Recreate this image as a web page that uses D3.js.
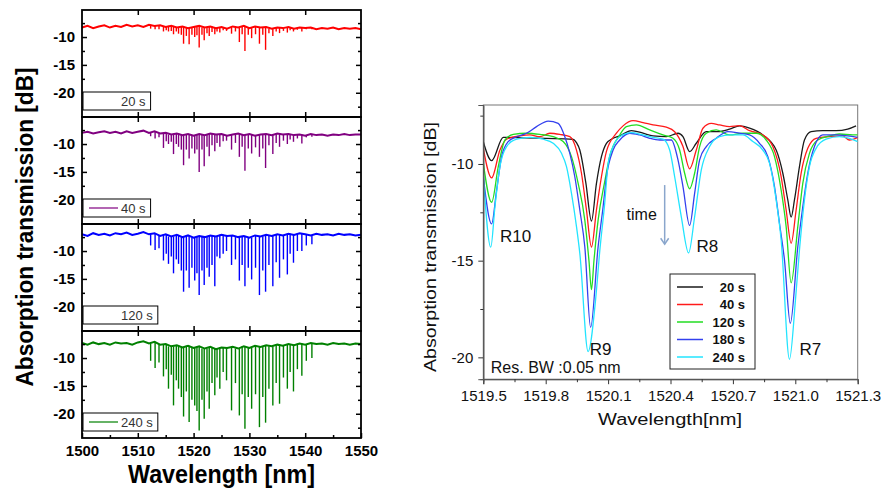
<!DOCTYPE html>
<html>
<head>
<meta charset="utf-8">
<script src="https://cdn.jsdelivr.net/npm/d3@7"></script>
<style>
  body { margin: 0; background: #fff; }
  svg { display: block; font-family: "Liberation Sans", Arial, sans-serif; }
</style>
</head>
<body>
<svg id="chart" width="881" height="500"></svg>
<script>
// ---- left: broadband spectra (one panel per time) ----
var baseWl = [1500,1501,1502,1503,1504,1505,1506,1507,1508,1509,
              1510,1511,1512,1513,1514,1515,1516,1517,1518,1519,
              1520,1521,1522,1523,1524,1525,1526,1527,1528,1529,
              1530,1531,1532,1533,1534,1535,1536,1537,1538,1539,
              1540,1541,1542,1543,1544,1545,1546,1547,1548,1549,
              1550];

var base20 = [-8.3,-8.0,-8.4,-8.1,-7.9,-8.3,-8.0,-8.2,-7.8,-8.1,
              -7.9,-8.2,-7.8,-8.0,-7.9,-8.2,-8.0,-8.3,-8.1,-8.4,
              -8.2,-8.0,-8.3,-8.1,-8.4,-8.2,-8.5,-8.1,-8.3,-8.0,
              -8.4,-8.1,-8.3,-8.2,-8.5,-8.3,-8.4,-8.2,-8.5,-8.3,
              -8.4,-8.3,-8.6,-8.4,-8.5,-8.3,-8.6,-8.4,-8.5,-8.4,
              -8.6];
var base40 = [-8.0,-7.8,-8.1,-7.9,-7.7,-8.0,-7.8,-8.1,-7.7,-8.0,
              -7.8,-7.6,-8.0,-7.7,-8.1,-8.0,-8.3,-8.1,-8.4,-8.2,
              -8.5,-8.2,-8.4,-8.1,-8.3,-8.2,-8.5,-8.3,-8.1,-8.4,
              -8.2,-8.5,-8.3,-8.2,-8.4,-8.1,-8.3,-8.2,-8.4,-8.3,
              -8.5,-8.2,-8.4,-8.3,-8.5,-8.3,-8.4,-8.2,-8.4,-8.3,
              -8.3];
var base120 = [-7.0,-7.3,-6.8,-7.1,-6.9,-7.2,-6.8,-7.0,-6.7,-7.1,
               -6.9,-6.6,-7.0,-6.8,-7.3,-7.0,-7.4,-7.1,-7.5,-7.2,
               -7.6,-7.3,-7.5,-7.2,-7.4,-7.1,-7.3,-7.2,-7.5,-7.3,
               -7.6,-7.2,-7.4,-7.1,-7.3,-7.0,-7.2,-6.9,-7.1,-6.8,
               -7.0,-7.2,-6.9,-7.1,-7.0,-7.2,-6.9,-7.1,-7.0,-7.2,
               -7.1];
var base240 = [-7.3,-7.6,-7.2,-7.5,-7.3,-7.6,-7.2,-7.4,-7.3,-7.6,
               -7.2,-7.0,-7.4,-7.1,-7.6,-7.5,-7.9,-7.7,-8.1,-7.8,
               -8.2,-7.9,-8.3,-8.0,-8.4,-8.1,-8.2,-8.0,-8.3,-7.9,
               -8.2,-7.8,-8.0,-7.7,-7.9,-7.6,-7.8,-7.5,-7.7,-7.4,
               -7.6,-7.3,-7.5,-7.4,-7.6,-7.3,-7.5,-7.4,-7.6,-7.4,
               -7.5];

// absorption line positions (nm) and their bottom level (dB) per panel
var lineWl = [1512.3,1513.1,1513.8,1514.6,1515.1,1515.5,1516.0,1516.4,1516.9,1517.3,
              1517.8,1518.2,1518.7,1519.2,1519.7,1520.2,1520.6,1521.0,1521.5,1521.9,
              1522.4,1522.8,1523.3,1523.8,1524.2,1524.7,1525.3,1525.9,1526.8,1527.5,
              1528.2,1528.7,1529.2,1529.8,1530.4,1531.1,1531.8,1532.4,1532.9,1533.5,
              1534.2,1534.8,1535.4,1536.1,1536.8,1537.3,1537.9,1538.6,1539.4,1540.2,
              1541.2];
var dip20 = [-8.5,-8.6,-8.6,-9.0,-8.8,-9.0,-8.9,-9.5,-9.0,-9.4,
             -9.6,-11.2,-9.8,-11.3,-9.6,-10.0,-9.7,-11.9,-9.6,-10.6,
             -9.3,-9.8,-9.1,-9.5,-9.0,-9.2,-8.8,-8.9,-9.4,-9.0,
             -10.9,-9.5,-12.5,-9.6,-10.2,-9.5,-11.2,-9.6,-12.3,-9.3,
             -9.8,-9.0,-9.3,-8.9,-9.2,-8.8,-9.0,-8.7,-9.0,-8.6,
             -8.6];
var dip40 = [-8.6,-9.0,-8.8,-10.7,-9.5,-10.0,-9.6,-11.8,-10.0,-10.5,
             -11.0,-13.8,-11.0,-12.6,-10.8,-11.7,-11.0,-15.0,-11.0,-14.0,
             -10.5,-12.2,-10.2,-11.3,-9.8,-10.5,-9.5,-9.4,-11.0,-9.8,
             -12.3,-10.5,-14.8,-10.8,-11.7,-10.6,-12.3,-10.8,-14.3,-10.2,
             -11.8,-9.8,-10.5,-9.4,-10.0,-9.2,-9.6,-9.0,-9.9,-8.8,
             -8.7];
var dip120 = [-9.0,-9.8,-9.5,-11.7,-10.5,-12.3,-11.0,-14.0,-11.5,-12.3,
              -13.5,-17.3,-13.5,-16.6,-13.0,-15.3,-14.0,-17.9,-13.5,-16.1,
              -13.0,-14.6,-12.5,-16.3,-11.0,-11.3,-10.5,-10.0,-12.5,-11.5,
              -15.3,-12.5,-16.3,-13.0,-15.1,-13.0,-17.9,-13.5,-17.3,-12.5,
              -16.3,-12.0,-14.8,-11.5,-14.2,-10.5,-12.1,-10.0,-10.0,-9.0,
              -8.8];
var dip240 = [-10.5,-11.8,-10.8,-13.3,-12.0,-15.5,-13.0,-18.5,-14.0,-15.5,
              -17.0,-20.5,-16.0,-21.5,-17.5,-18.5,-19.5,-23.0,-17.5,-20.9,
              -16.0,-19.1,-14.5,-16.7,-13.5,-15.5,-12.5,-14.0,-19.4,-14.5,
              -20.3,-16.5,-22.7,-17.0,-19.1,-16.5,-22.4,-17.0,-21.6,-15.5,
              -18.5,-14.5,-18.2,-13.5,-15.5,-12.5,-16.0,-12.0,-13.2,-10.5,
              -10.0];

var panels = [
  {label: "20 s",  color: "#ff0000", base: base20,  dips: dip20,  sample: false},
  {label: "40 s",  color: "#800080", base: base40,  dips: dip40,  sample: true},
  {label: "120 s", color: "#0000ff", base: base120, dips: dip120, sample: false},
  {label: "240 s", color: "#008000", base: base240, dips: dip240, sample: true}
];

// ---- right: zoom on R10..R7 lines ----
var s20 = [[1519.500,-8.85],[1519.540,-9.83],[1519.596,-8.62],[1519.700,-8.65],[1519.800,-8.68],
  [1519.930,-8.72],[1519.948,-8.9],[1519.964,-9.28],[1519.993,-10.98],[1520.020,-12.95],
  [1520.044,-11.0],[1520.068,-9.62],[1520.092,-8.93],[1520.116,-8.72],[1520.156,-8.55],
  [1520.212,-8.27],[1520.268,-8.41],[1520.316,-8.55],[1520.380,-8.59],[1520.436,-8.41],
  [1520.460,-8.59],[1520.492,-9.36],[1520.524,-8.93],[1520.572,-8.33],[1520.628,-8.33],
  [1520.684,-8.2],[1520.732,-8.03],[1520.780,-8.15],[1520.844,-8.5],[1520.908,-9.28],
  [1520.940,-10.48],[1520.964,-11.86],[1520.980,-12.75],[1520.996,-11.86],[1521.020,-10.14],
  [1521.044,-8.76],[1521.076,-8.33],[1521.132,-8.28],[1521.196,-8.28],[1521.252,-8.2],
  [1521.292,-8.03]];
var s40 = [[1519.500,-9.19],[1519.540,-10.72],[1519.580,-9.28],[1519.612,-8.72],[1519.676,-8.55],
  [1519.724,-8.5],[1519.772,-8.59],[1519.820,-8.41],[1519.868,-8.47],[1519.916,-8.59],
  [1519.948,-9.28],[1519.972,-10.48],[1519.996,-12.38],[1520.020,-14.3],[1520.044,-12.38],
  [1520.068,-10.66],[1520.092,-9.35],[1520.140,-8.41],[1520.172,-8.03],[1520.220,-7.76],
  [1520.268,-7.86],[1520.316,-7.98],[1520.380,-8.1],[1520.420,-8.33],[1520.460,-9.1],
  [1520.492,-10.25],[1520.524,-9.28],[1520.556,-8.15],[1520.596,-7.9],[1520.636,-7.98],
  [1520.684,-8.07],[1520.732,-8.02],[1520.780,-8.28],[1520.844,-8.5],[1520.892,-9.1],
  [1520.932,-10.66],[1520.956,-12.38],[1520.980,-14.1],[1521.004,-12.38],[1521.028,-10.48],
  [1521.060,-9.19],[1521.100,-8.67],[1521.164,-8.59],[1521.228,-8.55],[1521.260,-8.76],
  [1521.300,-8.62]];
var s120 = [[1519.500,-9.96],[1519.540,-11.98],[1519.572,-10.14],[1519.604,-8.76],[1519.644,-8.47],
  [1519.708,-8.41],[1519.772,-8.47],[1519.836,-8.59],[1519.884,-8.84],[1519.924,-9.62],
  [1519.956,-11.0],[1519.988,-12.9],[1520.008,-15.0],[1520.020,-16.5],[1520.032,-15.0],
  [1520.052,-12.9],[1520.084,-10.9],[1520.108,-9.6],[1520.156,-8.5],[1520.188,-8.07],
  [1520.236,-7.98],[1520.300,-8.24],[1520.364,-8.5],[1520.412,-8.67],[1520.444,-9.28],
  [1520.468,-10.48],[1520.492,-11.28],[1520.516,-10.48],[1520.540,-9.1],[1520.572,-8.41],
  [1520.620,-8.24],[1520.684,-8.5],[1520.748,-8.41],[1520.812,-8.41],[1520.860,-8.76],
  [1520.900,-9.62],[1520.932,-11.35],[1520.956,-13.24],[1520.980,-16.15],[1521.012,-13.24],
  [1521.036,-11.0],[1521.068,-9.45],[1521.108,-8.76],[1521.164,-8.55],[1521.212,-8.45],
  [1521.276,-8.5],[1521.300,-8.5]];
var s180 = [[1519.500,-10.66],[1519.540,-13.1],[1519.564,-11.35],[1519.588,-9.62],[1519.620,-8.84],
  [1519.660,-8.59],[1519.708,-8.41],[1519.756,-8.07],[1519.812,-7.78],[1519.860,-7.9],
  [1519.892,-8.59],[1519.916,-9.45],[1519.940,-10.66],[1519.964,-12.38],[1519.988,-14.28],
  [1520.016,-18.45],[1520.052,-14.28],[1520.076,-12.21],[1520.092,-10.66],[1520.124,-9.28],
  [1520.156,-8.76],[1520.204,-8.41],[1520.252,-8.5],[1520.300,-8.67],[1520.348,-8.76],
  [1520.404,-8.76],[1520.436,-9.79],[1520.460,-11.17],[1520.492,-13.18],[1520.516,-11.52],
  [1520.540,-9.79],[1520.572,-9.1],[1520.620,-8.67],[1520.676,-8.33],[1520.732,-8.41],
  [1520.780,-8.5],[1520.828,-8.93],[1520.868,-9.62],[1520.900,-11.17],[1520.924,-13.07],
  [1520.948,-14.97],[1520.976,-18.24],[1521.012,-14.28],[1521.036,-12.21],[1521.060,-10.48],
  [1521.092,-9.1],[1521.132,-8.5],[1521.196,-8.5],[1521.252,-8.55],[1521.300,-8.62]];
var s240 = [[1519.500,-10.57],[1519.536,-14.3],[1519.556,-12.21],[1519.580,-10.14],[1519.612,-9.1],
  [1519.660,-8.72],[1519.724,-8.62],[1519.788,-8.72],[1519.836,-8.93],[1519.876,-9.45],
  [1519.900,-10.14],[1519.924,-11.52],[1519.948,-13.24],[1519.964,-14.62],[1520.004,-19.7],
  [1520.040,-17.0],[1520.060,-14.5],[1520.084,-12.0],[1520.100,-10.0],[1520.124,-9.1],
  [1520.156,-8.59],[1520.212,-8.38],[1520.268,-8.5],[1520.316,-8.62],[1520.364,-8.72],
  [1520.396,-9.28],[1520.420,-10.66],[1520.452,-12.73],[1520.487,-14.6],[1520.516,-12.73],
  [1520.548,-10.31],[1520.588,-9.1],[1520.636,-8.59],[1520.684,-8.5],[1520.748,-8.5],
  [1520.796,-8.84],[1520.844,-9.28],[1520.876,-9.96],[1520.908,-11.86],[1520.932,-13.93],
  [1520.972,-20.1],[1521.001,-17.0],[1521.020,-14.45],[1521.044,-11.86],[1521.068,-10.14],
  [1521.100,-9.19],[1521.148,-8.72],[1521.212,-8.59],[1521.260,-8.67],[1521.300,-8.84]];

var series = [
  {name: "20 s",  color: "#1a1a1a", data: s20},
  {name: "40 s",  color: "#ff1a1a", data: s40},
  {name: "120 s", color: "#22dd22", data: s120},
  {name: "180 s", color: "#3340ee", data: s180},
  {name: "240 s", color: "#22e4ff", data: s240}
];

var notes = [
  {text: "R10", wl: 1519.58, v: -14.02},
  {text: "R9",  wl: 1520.012, v: -19.88},
  {text: "R8",  wl: 1520.525, v: -14.54},
  {text: "R7",  wl: 1521.02, v: -19.88}
];

var svg = d3.select("#chart");

/* ---------- left figure ---------- */
var L = {x0: 82, x1: 361, top: 10, h: 107};
var xL = d3.scaleLinear().domain([1500, 1550]).range([L.x0, L.x1]);

panels.forEach(function(p, i) {
    var t = L.top + i * L.h;
    var y = d3.scaleLinear().domain([-24.35, -5.15]).range([t + L.h, t]);
    var g = svg.append("g");

    g.append("path")
        .datum(baseWl.map(function(w, k) { return [w, p.base[k]]; }))
        .attr("d", d3.line().x(function(d) { return xL(d[0]); }).y(function(d) { return y(d[1]); }))
        .attr("fill", "none")
        .attr("stroke", p.color)
        .attr("stroke-width", 2);

    g.selectAll("line.dip")
        .data(lineWl)
        .enter().append("line")
        .attr("class", "dip")
        .attr("x1", function(d) { return xL(d); })
        .attr("x2", function(d) { return xL(d); })
        .attr("y1", function(d) { return y(p.base[Math.round(d - 1500)]); })
        .attr("y2", function(d, k) { return y(p.dips[k]); })
        .attr("stroke", p.color)
        .attr("stroke-width", 1.4);

    // ticks, all pointing inward
    var left = g.append("g").attr("transform", "translate(" + L.x0 + ",0)")
        .call(d3.axisLeft(y).tickValues([-10, -15, -20]).tickSize(-5).tickPadding(7)
              .tickFormat(function(d) { return String(d); }));
    left.selectAll("text").attr("font-size", 15).attr("font-weight", "bold")
        .attr("font-family", "Liberation Sans, Arial, sans-serif").attr("fill", "#000");
    g.append("g").attr("transform", "translate(" + L.x0 + ",0)")
        .call(d3.axisLeft(y).tickValues([-7.5, -12.5, -17.5, -22.5]).tickSize(-3).tickFormat(""));
    g.append("g").attr("transform", "translate(" + L.x1 + ",0)")
        .call(d3.axisRight(y).tickValues([-10, -15, -20]).tickSize(-5).tickFormat(""));
    g.append("g").attr("transform", "translate(" + L.x1 + ",0)")
        .call(d3.axisRight(y).tickValues([-7.5, -12.5, -17.5, -22.5]).tickSize(-3).tickFormat(""));
    g.append("g").attr("transform", "translate(0," + t + ")")
        .call(d3.axisTop(xL).tickValues([1510, 1520, 1530, 1540]).tickSize(-5).tickFormat(""));

    var last = i === panels.length - 1;
    var bot = g.append("g").attr("class", "xb").attr("transform", "translate(0," + (t + L.h) + ")")
        .call(d3.axisBottom(xL).tickValues(last ? [1500, 1510, 1520, 1530, 1540, 1550] : [1510, 1520, 1530, 1540])
              .tickSize(-5).tickPadding(7).tickFormat(last ? d3.format("d") : ""));
    bot.selectAll("text").attr("font-size", 15).attr("font-weight", "bold")
        .attr("font-family", "Liberation Sans, Arial, sans-serif").attr("fill", "#000");
    if (last) {
        g.append("g").attr("transform", "translate(0," + (t + L.h) + ")")
            .call(d3.axisBottom(xL).tickValues([1505, 1515, 1525, 1535, 1545]).tickSize(-3).tickFormat(""));
    }
    g.selectAll(".domain").remove();
    g.selectAll(".tick line").attr("stroke", "#000").attr("stroke-width", 1.5);

    g.append("rect")
        .attr("x", L.x0).attr("y", t)
        .attr("width", L.x1 - L.x0).attr("height", L.h)
        .attr("fill", "none").attr("stroke", "#000").attr("stroke-width", 1.8);

    // small legend box
    var by = t + L.h - 25;
    var lg = g.append("g");
    var box = lg.append("rect").attr("x", L.x0 + 1).attr("y", by).attr("height", 18)
        .attr("fill", "#fff").attr("stroke", "#000").attr("stroke-width", 1);
    var tx = lg.append("text").attr("x", L.x0 + 39).attr("y", by + 14)
        .attr("font-size", 13).attr("fill", "#333").text(p.label);
    box.attr("width", 38 + tx.node().getComputedTextLength() + 5);
    if (p.sample) {
        lg.append("line").attr("x1", L.x0 + 7).attr("x2", L.x0 + 36)
            .attr("y1", by + 9).attr("y2", by + 9)
            .attr("stroke", p.color).attr("stroke-width", 1.2);
    }
});

svg.append("text")
    .attr("transform", "translate(33,227) rotate(-90)")
    .attr("text-anchor", "middle")
    .attr("font-size", 24).attr("font-weight", "bold")
    .attr("textLength", 319).attr("lengthAdjust", "spacingAndGlyphs")
    .text("Absorption transmission [dB]");
svg.append("text")
    .attr("x", 128).attr("y", 483)
    .attr("font-size", 25).attr("font-weight", "bold")
    .attr("textLength", 187).attr("lengthAdjust", "spacingAndGlyphs")
    .text("Wavelength [nm]");

/* ---------- right figure ---------- */
var R = {x0: 483.3, x1: 857.7, y0: 105, y1: 379.2};
var xR = d3.scaleLinear().domain([1519.5, 1521.3]).range([R.x0, R.x1]);
var yR = d3.scaleLinear().domain([-21.13, -6.95]).range([R.y1, R.y0]);

svg.append("clipPath").attr("id", "clipR").append("rect")
    .attr("x", R.x0).attr("y", R.y0).attr("width", R.x1 - R.x0).attr("height", R.y1 - R.y0);

var gR = svg.append("g");
gR.append("rect").attr("x", R.x0).attr("y", R.y0)
    .attr("width", R.x1 - R.x0).attr("height", R.y1 - R.y0)
    .attr("fill", "none").attr("stroke", "#777").attr("stroke-width", 1);

var line = d3.line()
    .x(function(d) { return xR(d[0]); })
    .y(function(d) { return yR(d[1]); })
    .curve(d3.curveMonotoneX);

gR.append("g").attr("clip-path", "url(#clipR)")
    .selectAll("path")
    .data(series)
    .enter().append("path")
    .attr("d", function(d) { return line(d.data); })
    .attr("fill", "none")
    .attr("stroke", function(d) { return d.color; })
    .attr("stroke-width", 1.3);

var xTicks = [1519.5, 1519.8, 1520.1, 1520.4, 1520.7, 1521.0, 1521.3];
var xa = gR.append("g").attr("transform", "translate(0," + R.y1 + ")")
    .call(d3.axisBottom(xR).tickValues(xTicks).tickSize(5).tickPadding(6).tickFormat(d3.format(".1f")));
gR.append("g").attr("transform", "translate(0," + R.y1 + ")")
    .call(d3.axisBottom(xR).tickValues([1519.65, 1519.95, 1520.25, 1520.55, 1520.85, 1521.15]).tickSize(3).tickFormat(""));
var ya = gR.append("g").attr("transform", "translate(" + R.x0 + ",0)")
    .call(d3.axisLeft(yR).tickValues([-10, -15, -20]).tickSize(5).tickPadding(5)
          .tickFormat(function(d) { return String(d); }));
gR.append("g").attr("transform", "translate(" + R.x0 + ",0)")
    .call(d3.axisLeft(yR).tickValues([-7.5, -12.5, -17.5]).tickSize(3).tickFormat(""));
gR.selectAll(".domain").attr("stroke", "#555");
gR.selectAll(".tick line").attr("stroke", "#333");
xa.selectAll("text").attr("font-size", 15).attr("fill", "#111").attr("font-family", "Liberation Sans, Arial, sans-serif");
ya.selectAll("text").attr("font-size", 15).attr("fill", "#111").attr("font-family", "Liberation Sans, Arial, sans-serif");

gR.selectAll("text.note")
    .data(notes)
    .enter().append("text")
    .attr("class", "note")
    .attr("x", function(d) { return xR(d.wl); })
    .attr("y", function(d) { return yR(d.v); })
    .attr("font-size", 17).attr("fill", "#111")
    .text(function(d) { return d.text; });

gR.append("text")
    .attr("x", xR(1520.189)).attr("y", yR(-12.9))
    .attr("font-size", 16).attr("fill", "#111").text("time");
gR.append("line")
    .attr("x1", xR(1520.372)).attr("x2", xR(1520.372))
    .attr("y1", yR(-11.09)).attr("y2", yR(-14.15))
    .attr("stroke", "#8aa6cc").attr("stroke-width", 1.5);
gR.append("path")
    .attr("d", "M" + (xR(1520.372) - 4) + "," + (yR(-14.15) - 6) +
               "L" + xR(1520.372) + "," + yR(-14.15) +
               "L" + (xR(1520.372) + 4) + "," + (yR(-14.15) - 6))
    .attr("fill", "none").attr("stroke", "#8aa6cc").attr("stroke-width", 1.5);

gR.append("text")
    .attr("x", xR(1519.536)).attr("y", yR(-20.81))
    .attr("font-size", 16).attr("fill", "#111").text("Res. BW :0.05 nm");

// legend
var lgR = gR.append("g").attr("transform", "translate(670,274)");
lgR.append("rect").attr("width", 85).attr("height", 95)
    .attr("fill", "#fff").attr("stroke", "#222").attr("stroke-width", 1);
var ent = lgR.selectAll("g.ent").data(series).enter().append("g")
    .attr("transform", function(d, k) { return "translate(0," + (13 + k * 17.5) + ")"; });
ent.append("line").attr("x1", 7).attr("x2", 33)
    .attr("stroke", function(d) { return d.color; }).attr("stroke-width", 1.5);
ent.append("text").attr("x", 75).attr("y", 4.5).attr("text-anchor", "end")
    .attr("font-size", 13).attr("font-weight", "bold").attr("fill", "#111")
    .text(function(d) { return d.name; });

svg.append("text")
    .attr("transform", "translate(436,247) rotate(-90)")
    .attr("text-anchor", "middle")
    .attr("font-size", 16).attr("fill", "#111")
    .attr("textLength", 250).attr("lengthAdjust", "spacingAndGlyphs")
    .text("Absorption transmission [dB]");
svg.append("text")
    .attr("x", 598).attr("y", 425)
    .attr("font-size", 16).attr("fill", "#111")
    .attr("textLength", 144).attr("lengthAdjust", "spacingAndGlyphs")
    .text("Wavelength[nm]");
</script>
</body>
</html>
